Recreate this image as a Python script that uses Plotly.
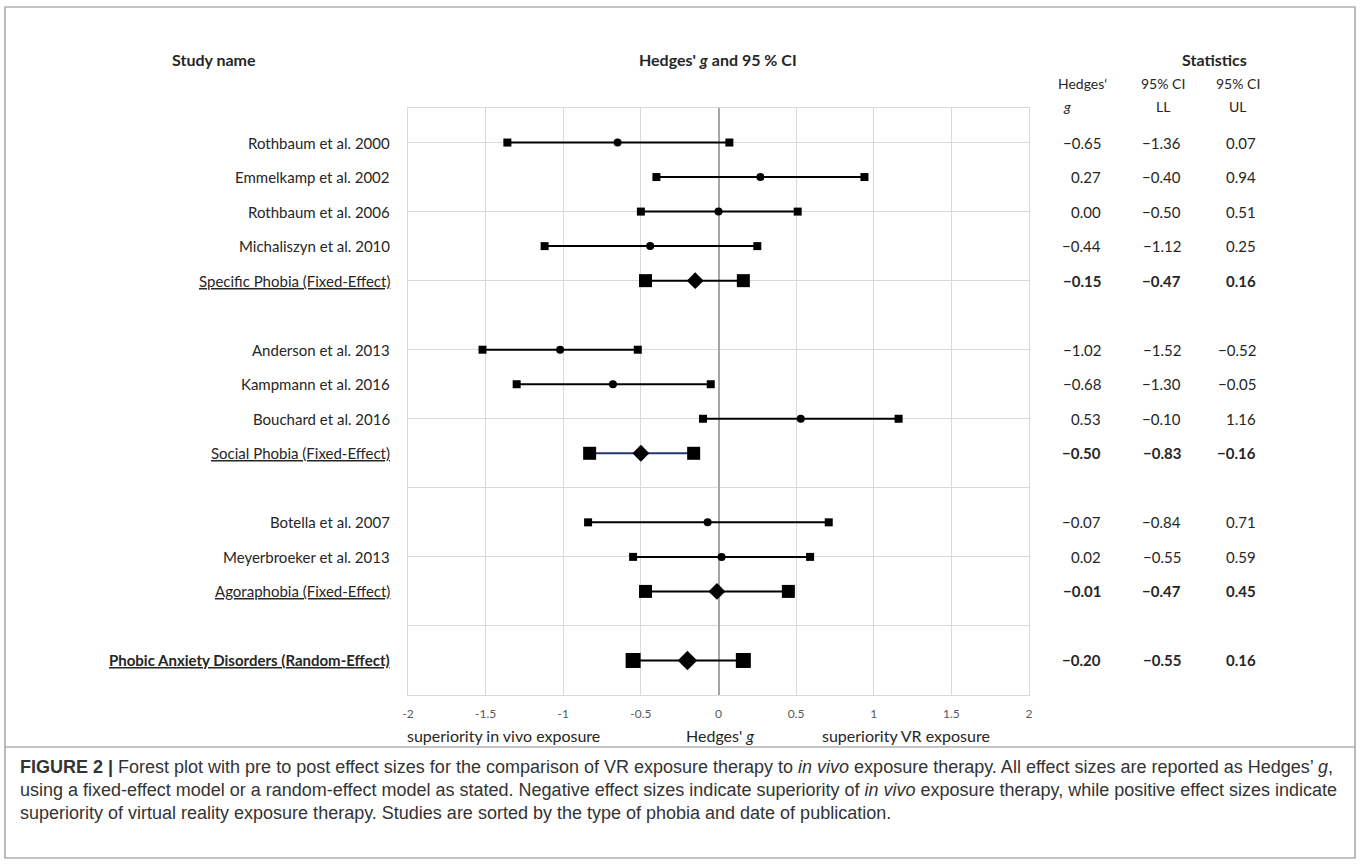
import plotly.graph_objects as go

# ---------------- data ----------------
row_labels = [
    "Rothbaum et al. 2000", "Emmelkamp et al. 2002", "Rothbaum et al. 2006",
    "Michaliszyn et al. 2010", "Specific Phobia (Fixed-Effect)", "",
    "Anderson et al. 2013", "Kampmann et al. 2016", "Bouchard et al. 2016",
    "Social Phobia (Fixed-Effect)", "",
    "Botella et al. 2007", "Meyerbroeker et al. 2013", "Agoraphobia (Fixed-Effect)", "",
    "Phobic Anxiety Disorders (Random-Effect)",
]
row_kind = ["study", "study", "study", "study", "summary", "",
            "study", "study", "study", "summary", "",
            "study", "study", "summary", "", "overall"]
hedges_g = [-0.65, 0.27, 0.00, -0.44, -0.15, None, -1.02, -0.68, 0.53, -0.50, None,
            -0.07, 0.02, -0.01, None, -0.20]
ci_ll = [-1.36, -0.40, -0.50, -1.12, -0.47, None, -1.52, -1.30, -0.10, -0.83, None,
         -0.84, -0.55, -0.47, None, -0.55]
ci_ul = [0.07, 0.94, 0.51, 0.25, 0.16, None, -0.52, -0.05, 1.16, -0.16, None,
         0.71, 0.59, 0.45, None, 0.16]
tick_vals = [-2, -1.5, -1, -0.5, 0, 0.5, 1, 1.5, 2]
tick_text = ["-2", "-1.5", "-1", "-0.5", "0", "0.5", "1", "1.5", "2"]

# ---------------- layout geometry ----------------
W, H = 1360, 864
L, R, T, B = 408, 1029, 108, 695
n = len(row_labels)
ypos = [n - i for i in range(n)]


def px(x):
    return (x - L) / (R - L)


def py(y):
    return (B - y) / (B - T)


FONT = "Lato"
TXT = "#262626"
fig = go.Figure()

marker_sizes = {"study": (8, 8, "circle"), "summary": (13, 13, "diamond"),
                "overall": (15, 15, "diamond")}

for i, kind in enumerate(row_kind):
    if not kind:
        continue
    y = ypos[i]
    sq, cs, sym = marker_sizes[kind]
    lc = "#2a3470" if row_labels[i].startswith("Social") else "black"
    fig.add_trace(go.Scatter(x=[ci_ll[i], ci_ul[i]], y=[y, y], mode="lines+markers",
                             line=dict(color=lc, width=2),
                             marker=dict(symbol="square", size=sq, color="black"),
                             hoverinfo="skip", showlegend=False))
    fig.add_trace(go.Scatter(x=[hedges_g[i]], y=[y], mode="markers",
                             marker=dict(symbol=sym, size=cs, color="black"),
                             hoverinfo="skip", showlegend=False))

ann = []


def fmt(v):
    s = f"{abs(v):.2f}"
    return ("\u2212" + s) if v < 0 else s


for i, lab in enumerate(row_labels):
    if not lab:
        continue
    kind = row_kind[i]
    y = ypos[i]
    txt = lab
    if kind == "overall":
        txt = "<b>" + lab + "</b>"
    font = dict(family=FONT, size=15, color=TXT)
    if kind in ("summary", "overall"):
        font["lineposition"] = "under"
    ann.append(dict(x=px(392), y=y, xref="paper", yref="y", text=txt, showarrow=False,
                    xanchor="right", yanchor="middle", font=font))
    for col_x, vals in ((1103, hedges_g), (1183, ci_ll), (1258, ci_ul)):
        t = fmt(vals[i])
        if kind != "study":
            t = "<b>" + t + "</b>"
        ann.append(dict(x=px(col_x), y=y, xref="paper", yref="y", text=t, showarrow=False,
                        xanchor="right", yanchor="middle",
                        font=dict(family=FONT, size=15, color=TXT)))

# headers
hdr_font = dict(family=FONT, size=16, color=TXT)
for xc, t in ((214, "<b>Study name</b>"), (718, "<b>Hedges' <i>g</i> and 95 % CI</b>"),
              (1214, "<b>Statistics</b>")):
    ann.append(dict(x=px(xc), y=py(60), xref="paper", yref="paper", text=t, showarrow=False,
                    xanchor="center", yanchor="middle", font=hdr_font))
sub_font = dict(family=FONT, size=14, color=TXT)
for xc, t1, t2 in ((1082, "Hedges\u2018", "<i>g</i>"), (1163, "95% CI", "LL"),
                   (1238, "95% CI", "UL")):
    ann.append(dict(x=px(xc), y=py(84), xref="paper", yref="paper", text=t1, showarrow=False,
                    xanchor="center", yanchor="middle", font=sub_font))
    ann.append(dict(x=px(xc - (15 if t2 == "<i>g</i>" else 0)), y=py(106), xref="paper",
                    yref="paper", text=t2, showarrow=False,
                    xanchor="center", yanchor="middle", font=sub_font))

# axis titles
ax_font = dict(family=FONT, size=16, color=TXT)
for xc, t in ((503, "superiority in vivo exposure"), (720, "Hedges' <i>g</i>"),
              (906, "superiority VR exposure")):
    ann.append(dict(x=px(xc), y=py(735), xref="paper", yref="paper", text=t, showarrow=False,
                    xanchor="center", yanchor="middle", font=ax_font))

# caption
cap_lines = [
    "<b>FIGURE 2 |</b> Forest plot with pre to post effect sizes for the comparison of VR "
    "exposure therapy to <i>in vivo</i> exposure therapy. All effect sizes are reported as Hedges\u2019 <i>g</i>,",
    "using a fixed-effect model or a random-effect model as stated. Negative effect sizes "
    "indicate superiority of <i>in vivo</i> exposure therapy, while positive effect sizes indicate",
    "superiority of virtual reality exposure therapy. Studies are sorted by the type of phobia "
    "and date of publication.",
]
for k, line in enumerate(cap_lines):
    ann.append(dict(x=px(18), y=py(767 + 23 * k), xref="paper", yref="paper", text=line,
                    showarrow=False, xanchor="left", yanchor="middle",
                    font=dict(family="Liberation Sans", size=18, color="#333333")))

shapes = [
    dict(type="rect", xref="paper", yref="paper", x0=px(5), x1=px(1355), y0=py(7), y1=py(858),
         line=dict(color="#8c8c8c", width=1.2)),
    dict(type="line", xref="paper", yref="paper", x0=px(5), x1=px(1355), y0=py(747), y1=py(747),
         line=dict(color="#8c8c8c", width=1.2)),
]

fig.update_layout(
    width=W, height=H,
    margin=dict(l=L, r=W - R, t=T, b=H - B, pad=0),
    paper_bgcolor="white", plot_bgcolor="white",
    annotations=ann, shapes=shapes, showlegend=False,
    xaxis=dict(range=[-2, 2], tickvals=tick_vals, ticktext=tick_text, showgrid=True,
               gridcolor="#d9d9d9", gridwidth=1, zeroline=True, zerolinecolor="#a6a6a6",
               zerolinewidth=2, showline=True, mirror=True, linecolor="#d9d9d9", linewidth=1,
               ticks="", ticklabelstandoff=8,
               tickfont=dict(family=FONT, size=12, color="#595959"), fixedrange=True),
    yaxis=dict(range=[0, 17], tick0=0, dtick=2, showgrid=True, gridcolor="#d9d9d9",
               gridwidth=1, zeroline=False, showticklabels=False, showline=True, mirror=True,
               linecolor="#d9d9d9", linewidth=1, ticks="", fixedrange=True),
)

fig.write_html("out.html", config={"displayModeBar": False},
               post_script="document.body.style.margin='0px';document.body.style.padding='0px';document.body.style.overflow='hidden';")
